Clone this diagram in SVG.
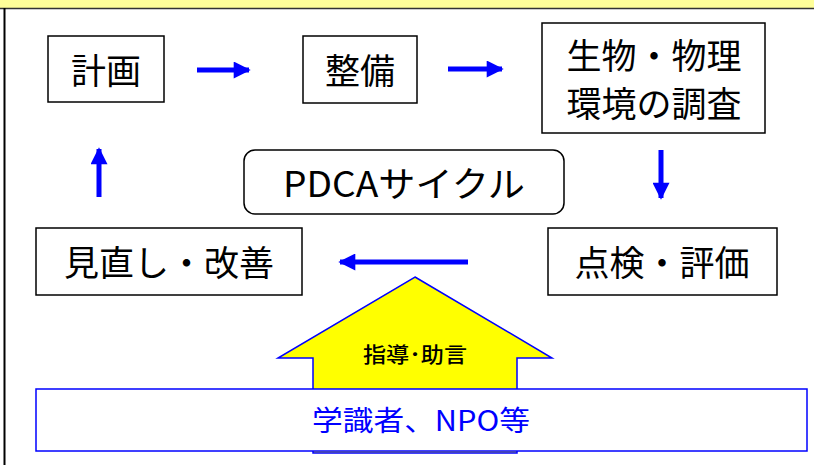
<svg xmlns="http://www.w3.org/2000/svg" width="814" height="465" viewBox="0 0 814 465">
<defs>
<style>
.box{fill:#fff;stroke:#000;stroke-width:1.5}
.t{font-family:"Noto Sans CJK JP","Noto Sans",sans-serif;font-size:35px;fill:#000;text-anchor:middle}
.arr{stroke:#0000ff;stroke-width:5;fill:none}
</style>
<marker id="ah" viewBox="0 0 10 10" refX="9" refY="5" markerWidth="3.6" markerHeight="3.4" orient="auto" markerUnits="strokeWidth">
<path d="M0,0 L10,5 L0,10 z" fill="#0000ff"/>
</marker>
</defs>
<rect x="0" y="0" width="814" height="465" fill="#fff"/>
<rect x="0" y="0" width="814" height="8" fill="#ffff99"/>
<line x1="0" y1="8.5" x2="814" y2="8.5" stroke="#333" stroke-width="1.5"/>
<line x1="4.5" y1="8" x2="4.5" y2="465" stroke="#000" stroke-width="2"/>

<g id="connectors">
<line class="arr" x1="197" y1="70" x2="249" y2="70" marker-end="url(#ah)"/>
<line class="arr" x1="448" y1="69" x2="502" y2="69" marker-end="url(#ah)"/>
<line class="arr" x1="661" y1="150" x2="661" y2="198" marker-end="url(#ah)"/>
<line class="arr" x1="468" y1="262" x2="340" y2="262" marker-end="url(#ah)"/>
<line class="arr" x1="99" y1="197" x2="99" y2="149" marker-end="url(#ah)"/>
</g>

<g id="support-arrow">
<polygon points="415,277 552,358 517,358 517,453 313,453 313,358 278,358" fill="#ffff00" stroke="#0000ff" stroke-width="1.5"/>
<text x="415" y="362" font-family="'Noto Sans CJK JP',sans-serif" font-size="21" font-weight="500" text-anchor="middle" fill="#000" textLength="104" lengthAdjust="spacingAndGlyphs">指導･助言</text>
</g>

<g id="plan">
<rect class="box" x="48" y="36" width="116" height="66"/>
<text class="t" x="106" y="84">計画</text>
</g>
<g id="maintain">
<rect class="box" x="303" y="36" width="114" height="67"/>
<text class="t" x="360" y="84">整備</text>
</g>
<g id="survey">
<rect class="box" x="542" y="23" width="223" height="110"/>
<text class="t" x="654" y="69" font-size="34">生物・物理</text>
<text class="t" x="654" y="117" font-size="34">環境の調査</text>
</g>
<g id="pdca">
<rect class="box" x="244" y="150" width="320" height="64" rx="11"/>
<text class="t" x="404" y="197" font-size="33" textLength="242" lengthAdjust="spacingAndGlyphs">PDCAサイクル</text>
</g>
<g id="review">
<rect class="box" x="36" y="228" width="266" height="67"/>
<text class="t" x="169" y="276">見直し・改善</text>
</g>
<g id="check">
<rect class="box" x="548" y="228" width="229" height="67"/>
<text class="t" x="662" y="276">点検・評価</text>
</g>
<g id="experts">
<rect x="36" y="389" width="771" height="62" fill="#fff" stroke="#0000ff" stroke-width="1.5"/>
<text x="421" y="431" font-family="'Noto Sans CJK JP',sans-serif" font-size="28" text-anchor="middle" fill="#0000ff" textLength="218" lengthAdjust="spacingAndGlyphs">学識者、NPO等</text>
</g>
</svg>
